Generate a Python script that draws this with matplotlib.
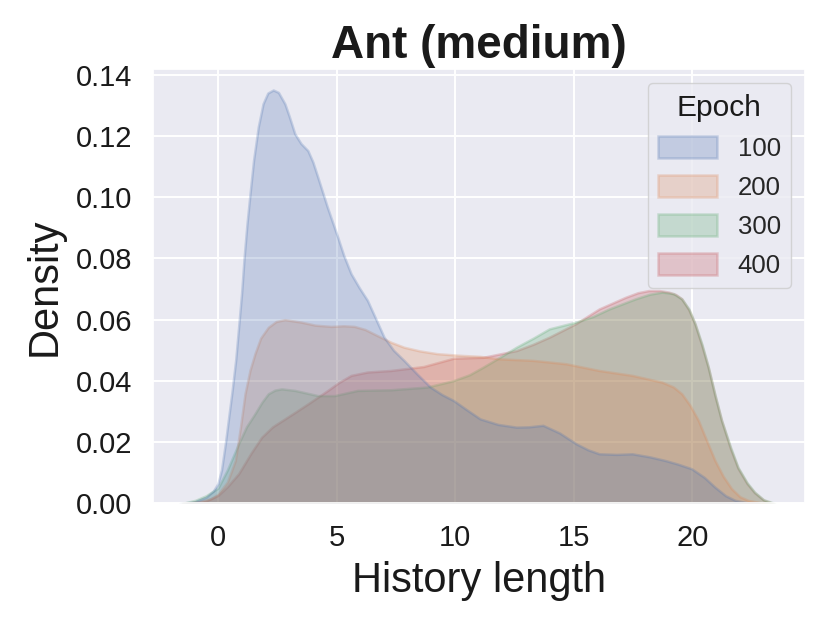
import matplotlib

matplotlib.use("Agg")

import matplotlib.pyplot as plt
import seaborn as sns
from matplotlib.patches import Patch

# History length -> density, one curve per epoch
EPOCHS = ["100", "200", "300", "400"]

X_100 = [-1.6, -1.0, -0.5, -0.2, 0.0, 0.15, 0.31, 0.45, 0.6, 0.75, 0.87, 1.0,
         1.1, 1.22, 1.35, 1.5, 1.7, 1.9, 2.1, 2.33, 2.55, 2.82, 3.0, 3.24, 3.5,
         3.79, 4.0, 4.21, 4.6, 5.05, 5.3, 5.61, 5.95, 6.3, 6.65, 7.0, 7.4, 7.84,
         8.4, 8.95, 9.45, 9.93, 10.5, 11.05, 11.8, 12.58, 13.1, 13.7, 14.4,
         15.09, 15.6, 16.07, 16.8, 17.46, 18.2, 18.86, 19.4, 19.97, 20.5, 20.95,
         21.4, 21.8, 22.3, 22.8]
Y_100 = [0.0, 0.0005, 0.002, 0.004, 0.0065, 0.011, 0.0195, 0.028, 0.037, 0.047,
         0.0575, 0.069, 0.08, 0.091, 0.101, 0.112, 0.123, 0.1305, 0.1340, 0.135,
         0.1342, 0.1305, 0.1265, 0.1207, 0.1175, 0.1152, 0.1115, 0.1065, 0.097,
         0.0869, 0.081, 0.075, 0.0705, 0.0663, 0.0603, 0.0543, 0.050, 0.0467,
         0.0422, 0.038, 0.0355, 0.0336, 0.0305, 0.0276, 0.0258, 0.0249, 0.0250,
         0.0255, 0.023, 0.0195, 0.0175, 0.0162, 0.0160, 0.0162, 0.0152, 0.014,
         0.0128, 0.0113, 0.0085, 0.0053, 0.0025, 0.001, 0.0002, 0.0]

X_200 = [-1.5, -0.8, -0.3, 0.0, 0.4, 0.73, 0.95, 1.14, 1.35, 1.56, 1.8, 2.12,
         2.45, 2.82, 3.51, 4.1, 4.77, 5.3, 5.75, 6.2, 6.72, 7.3, 7.84, 8.5, 9.23,
         10.1, 11.05, 11.88, 13.28, 14.67, 16.07, 17.46, 18.72, 19.2, 19.55,
         19.9, 20.25, 20.6, 20.95, 21.3, 21.65, 22.0, 22.34, 23.0]
Y_200 = [0.0, 0.0005, 0.0015, 0.003, 0.007, 0.014, 0.025, 0.0358, 0.0435,
         0.0489, 0.054, 0.0575, 0.0594, 0.06, 0.0592, 0.0582, 0.0578, 0.0580,
         0.0578, 0.0568, 0.0548, 0.0526, 0.051, 0.0498, 0.0489, 0.0484, 0.048,
         0.0472, 0.0467, 0.0456, 0.0434, 0.0418, 0.0396, 0.0380, 0.0358, 0.032,
         0.0271, 0.0205, 0.014, 0.0088, 0.0048, 0.0022, 0.001, 0.0]

X_300 = [-1.5, -0.95, -0.5, 0.0, 0.4, 0.87, 1.2, 1.56, 1.85, 2.12, 2.4, 2.68,
         3.24, 4.21, 4.91, 5.89, 7.28, 8.82, 9.93, 10.6, 11.18, 11.9, 12.58,
         13.3, 13.97, 15.09, 15.8, 16.49, 17.6, 18.2, 18.72, 19.2, 19.55, 19.85,
         20.11, 20.4, 20.67, 20.95, 21.23, 21.6, 21.92, 22.3, 22.62, 23.0, 23.46]
Y_300 = [0.0, 0.001, 0.0025, 0.005, 0.011, 0.0195, 0.025, 0.0293, 0.033, 0.0358,
         0.037, 0.0374, 0.0369, 0.0352, 0.0352, 0.0369, 0.0371, 0.038, 0.0401,
         0.042, 0.0445, 0.0478, 0.051, 0.054, 0.057, 0.0592, 0.061, 0.0635,
         0.0668, 0.0683, 0.069, 0.0685, 0.0668, 0.0635, 0.0587, 0.052, 0.0445,
         0.0355, 0.0271, 0.0185, 0.0118, 0.0068, 0.0037, 0.0012, 0.0]

X_400 = [-1.3, -0.5, 0.0, 0.4, 0.87, 1.4, 1.84, 2.3, 2.82, 3.3, 3.79, 4.63,
         5.1, 5.61, 6.3, 7.28, 8.67, 9.93, 11.18, 12.58, 13.3, 13.97, 15.09,
         16.07, 17.18, 17.7, 18.16, 18.6, 19.0, 19.3, 19.55, 19.85, 20.11, 20.4,
         20.67, 20.95, 21.23, 21.6, 21.92, 22.3, 22.62, 23.0, 23.4]
Y_400 = [0.0, 0.0008, 0.0026, 0.0055, 0.0097, 0.0165, 0.0216, 0.025, 0.0276,
         0.030, 0.0325, 0.0369, 0.0395, 0.0418, 0.0429, 0.0434, 0.0447, 0.0474,
         0.0477, 0.0499, 0.052, 0.0543, 0.0587, 0.0635, 0.0673, 0.0688, 0.0695,
         0.0695, 0.069, 0.0682, 0.0668, 0.0632, 0.0585, 0.0515, 0.0443, 0.0352,
         0.027, 0.018, 0.0115, 0.0065, 0.0035, 0.0011, 0.0]

CURVES = [(X_100, Y_100), (X_200, Y_200), (X_300, Y_300), (X_400, Y_400)]
COLORS = ["#4c72b0", "#dd8452", "#55a868", "#c44e52"]

sns.set_theme(style="darkgrid")
plt.rcParams["font.family"] = ["Liberation Sans", "DejaVu Sans"]

fig = plt.figure(figsize=(8.3, 6.23), dpi=100)
ax = fig.add_axes([0.184, 0.192, 0.786, 0.697])

# seaborn draws hue levels in reverse order
for (xs, ys), color in reversed(list(zip(CURVES, COLORS))):
    ax.fill_between(xs, ys, color=color, alpha=0.25, linewidth=1.8)

ax.set_xlim(-2.75, 24.75)
ax.set_ylim(0, 0.1418)
ax.set_xticks([0, 5, 10, 15, 20])
ax.set_yticks([0.0, 0.02, 0.04, 0.06, 0.08, 0.10, 0.12, 0.14])
ax.set_yticklabels(["0.00", "0.02", "0.04", "0.06", "0.08", "0.10", "0.12", "0.14"])
ax.tick_params(labelsize=21, pad=9, colors="#1a1a1a")
ax.grid(color="white", linewidth=1.4)

ax.set_title("Ant (medium)", fontsize=33, fontweight="bold", color="#1a1a1a", pad=8)
ax.set_xlabel("History length", fontsize=30, color="#1a1a1a", labelpad=6)
ax.set_ylabel("Density", fontsize=30, color="#1a1a1a", labelpad=8)

handles = [Patch(facecolor=c, edgecolor=c, alpha=0.25, linewidth=1.8) for c in COLORS]
leg = ax.legend(handles, EPOCHS, title="Epoch", loc="upper right", fontsize=18.5,
                title_fontsize=21.5, frameon=True, borderaxespad=0.55,
                handlelength=2.3, handleheight=0.95, labelspacing=0.55)
leg.get_title().set_color("#1a1a1a")

fig.savefig("out.png", dpi=100)
